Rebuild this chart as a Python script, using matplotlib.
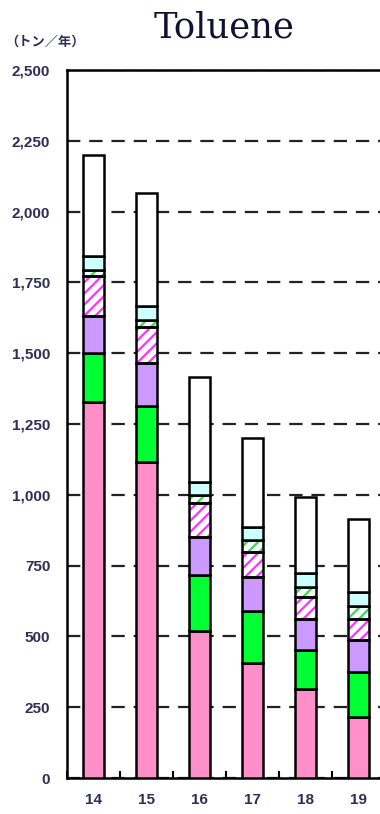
import matplotlib
matplotlib.use("Agg")
import matplotlib.pyplot as plt
import numpy as np

plt.rcParams['hatch.linewidth'] = 1.6

# Fiscal years
years = ["14", "15", "16", "17", "18", "19"]

# Stacked segments (t/year), bottom to top
seg_pink = [1328, 1116, 519, 406, 314, 215]
seg_green = [173, 198, 198, 184, 138, 159]
seg_purple = [130, 151, 134, 120, 109, 113]
seg_pink_hatch = [142, 128, 120, 88, 78, 74]
seg_green_hatch = [21, 24, 28, 42, 35, 46]
seg_cyan = [49, 50, 46, 46, 50, 50]
seg_white = [357, 399, 371, 314, 268, 258]

y_ticks = [0, 250, 500, 750, 1000, 1250, 1500, 1750, 2000, 2250, 2500]
y_tick_labels = ["0", "250", "500", "750", "1,000", "1,250", "1,500",
                 "1,750", "2,000", "2,250", "2,500"]

segments = [
    (seg_pink, "#ff8fc8", None, None),
    (seg_green, "#00ff33", None, None),
    (seg_purple, "#cc99ff", None, None),
    (seg_pink_hatch, "white", "///", "#ff33ff"),
    (seg_green_hatch, "white", "///", "#33dd55"),
    (seg_cyan, "#ccffff", None, None),
    (seg_white, "white", None, None),
]

fig = plt.figure(figsize=(3.8, 8.14), dpi=100)
ax = fig.add_axes([67 / 380, 36 / 814, 318 / 380, 708 / 814])

x = np.arange(len(years))
width = 0.4
bottom = np.zeros(len(years))
for vals, face, hatch, hcol in segments:
    vals = np.array(vals, dtype=float)
    if hatch:
        ax.bar(x, vals, width, bottom=bottom, color=face, hatch=hatch,
               edgecolor=hcol, linewidth=0, zorder=2)
        ax.bar(x, vals, width, bottom=bottom, fill=False,
               edgecolor="black", linewidth=1.8, zorder=3)
    else:
        ax.bar(x, vals, width, bottom=bottom, color=face,
               edgecolor="black", linewidth=1.8, zorder=3)
    bottom += vals

ax.set_xlim(-0.5, len(years) - 0.5)
ax.set_ylim(0, 2500)

ax.set_yticks(y_ticks)
ax.set_yticklabels(y_tick_labels)
ax.yaxis.grid(True, linestyle=(0, (6, 4)), color="#222222", linewidth=1.6, zorder=1)
ax.set_axisbelow(True)
ax.tick_params(axis="y", length=0, pad=12)
for lab in ax.get_yticklabels():
    lab.set_fontsize(11)
    lab.set_fontweight("bold")
    lab.set_color("#2e2e58")
    lab.set_fontfamily("Liberation Sans")

ax.set_xticks(x)
ax.set_xticklabels(years)
ax.set_xticks(np.arange(len(years) + 1) - 0.5, minor=True)
ax.tick_params(axis="x", which="major", length=0, pad=11)
ax.tick_params(axis="x", which="minor", direction="in", length=5, width=1.5)
for lab in ax.get_xticklabels():
    lab.set_fontsize(11)
    lab.set_fontweight("bold")
    lab.set_color("#2e2e58")
    lab.set_fontfamily("Liberation Sans")

for side in ["left", "bottom", "top", "right"]:
    ax.spines[side].set_linewidth(1.8)
    ax.spines[side].set_color("black")

fig.text(224 / 380, 1 - 27 / 814, "Toluene", ha="center", va="center",
         fontsize=25.5, family="DejaVu Serif", color="#111133")
fig.text(5 / 380, 1 - 42 / 814, "（トン／年）", ha="left", va="center",
         fontsize=9.5, family=["Noto Sans CJK JP", "DejaVu Sans"],
         fontweight="bold", color="#2e2e58")

fig.savefig("out.png", dpi=100)
